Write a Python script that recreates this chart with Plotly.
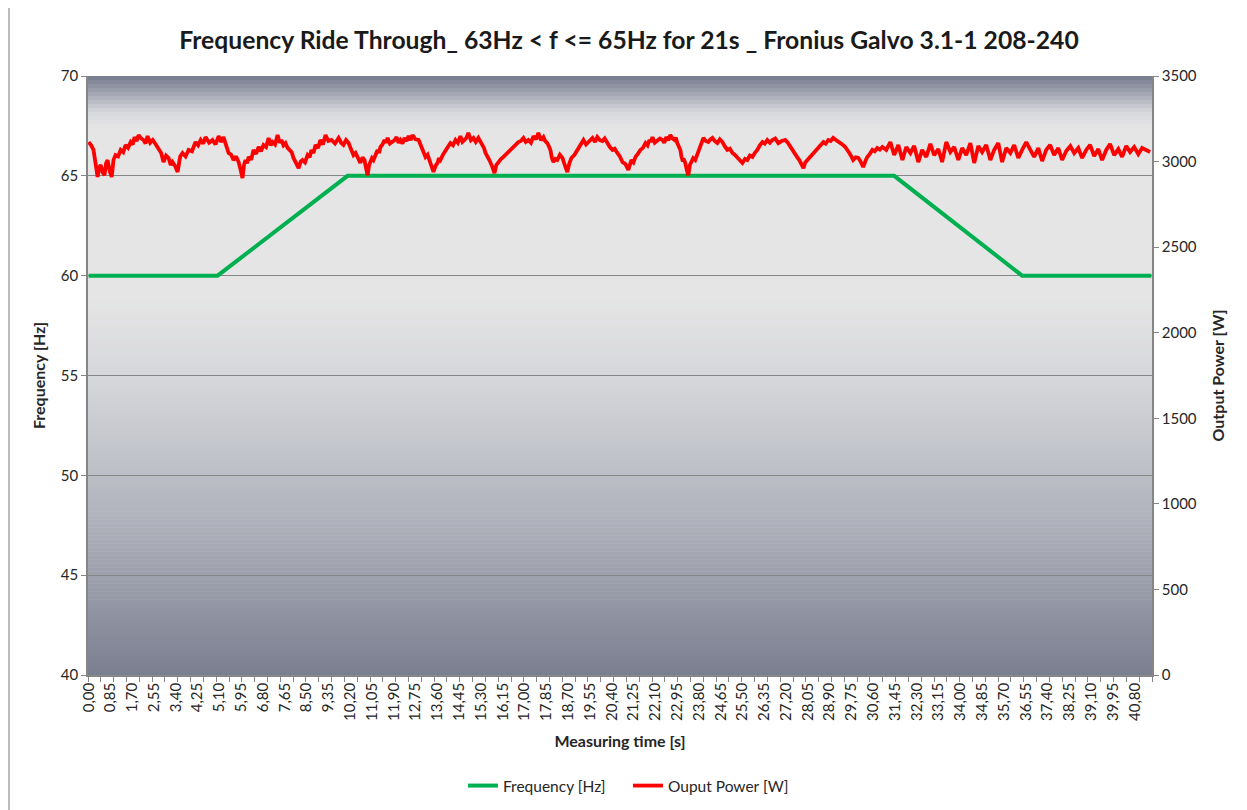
import plotly.graph_objects as go

# ---------------- data ----------------
freq_time = [0.0, 5.03, 10.10, 31.42, 36.41, 41.45]
freq_hz = [60, 60, 65, 65, 60, 60]

power_time = [
    0.00, 0.10, 0.19, 0.27, 0.35, 0.41, 0.47, 0.55, 0.62, 0.68, 0.74, 0.82, 0.90, 0.97, 1.05, 1.15,
    1.25, 1.35, 1.44, 1.54, 1.64, 1.72, 1.79, 1.87, 1.95, 2.05, 2.14, 2.22, 2.30, 2.40, 2.50, 2.62,
    2.73, 2.83, 2.92, 3.02, 3.12, 3.20, 3.27, 3.37, 3.47, 3.57, 3.66, 3.78, 3.90, 4.03, 4.17, 4.27,
    4.37, 4.47, 4.56, 4.70, 4.83, 4.95, 5.07, 5.17, 5.26, 5.36, 5.46, 5.56, 5.65, 5.75, 5.85, 5.93,
    6.00, 6.06, 6.12, 6.18, 6.24, 6.34, 6.43, 6.53, 6.63, 6.72, 6.82, 6.92, 7.02, 7.10, 7.17, 7.27,
    7.37, 7.45, 7.52, 7.60, 7.68, 7.76, 7.84, 7.92, 7.99, 8.09, 8.19, 8.27, 8.34, 8.44, 8.54, 8.62,
    8.69, 8.77, 8.85, 8.95, 9.04, 9.14, 9.24, 9.35, 9.47, 9.61, 9.75, 9.85, 9.94, 10.04, 10.14, 10.24,
    10.33, 10.41, 10.49, 10.55, 10.60, 10.68, 10.76, 10.82, 10.88, 10.94, 10.99, 11.05, 11.11, 11.19,
    11.27, 11.33, 11.38, 11.46, 11.54, 11.60, 11.66, 11.75, 11.85, 11.93, 12.01, 12.09, 12.16, 12.24,
    12.32, 12.40, 12.48, 12.56, 12.63, 12.75, 12.87, 12.95, 13.02, 13.08, 13.14, 13.22, 13.29, 13.37,
    13.45, 13.53, 13.61, 13.66, 13.72, 13.82, 13.92, 14.01, 14.11, 14.21, 14.31, 14.40, 14.50, 14.58,
    14.66, 14.74, 14.81, 14.91, 15.01, 15.10, 15.20, 15.28, 15.36, 15.42, 15.48, 15.56, 15.63, 15.73,
    15.83, 15.90, 15.98, 16.08, 16.18, 16.27, 16.37, 16.47, 16.57, 16.66, 16.76, 16.86, 16.96, 17.05,
    17.15, 17.25, 17.35, 17.45, 17.54, 17.64, 17.74, 17.81, 17.89, 17.95, 18.01, 18.07, 18.13, 18.20,
    18.28, 18.38, 18.48, 18.57, 18.67, 18.75, 18.83, 18.95, 19.06, 19.18, 19.30, 19.40, 19.49, 19.57,
    19.65, 19.75, 19.84, 19.94, 20.04, 20.13, 20.23, 20.33, 20.43, 20.52, 20.62, 20.72, 20.82, 20.94,
    21.05, 21.11, 21.17, 21.25, 21.33, 21.42, 21.52, 21.62, 21.72, 21.80, 21.87, 21.93, 21.99, 22.08,
    22.18, 22.28, 22.38, 22.45, 22.53, 22.61, 22.69, 22.77, 22.85, 22.90, 22.96, 23.02, 23.08, 23.12,
    23.16, 23.22, 23.27, 23.33, 23.39, 23.45, 23.51, 23.58, 23.66, 23.74, 23.82, 23.90, 23.98, 24.07,
    24.17, 24.25, 24.33, 24.42, 24.52, 24.62, 24.72, 24.81, 24.91, 25.01, 25.11, 25.20, 25.30, 25.40,
    25.50, 25.60, 25.69, 25.79, 25.89, 25.98, 26.08, 26.18, 26.28, 26.37, 26.47, 26.57, 26.67, 26.78,
    26.90, 27.03, 27.17, 27.27, 27.37, 27.46, 27.56, 27.64, 27.72, 27.80, 27.88, 27.95, 28.03, 28.13,
    28.23, 28.32, 28.42, 28.54, 28.66, 28.75, 28.85, 28.94, 29.04, 29.16, 29.28, 29.40, 29.51, 29.59,
    29.67, 29.75, 29.82, 29.92, 30.02, 30.11, 30.21, 30.29, 30.37, 30.47, 30.57, 30.66, 30.76, 30.86,
    30.96,
    31.11, 31.27, 31.42, 31.58, 31.74, 31.89, 32.05, 32.20, 32.36, 32.51, 32.67, 32.83, 32.98, 33.14,
    33.29, 33.45, 33.61, 33.76, 33.92, 34.07, 34.23, 34.39, 34.54, 34.70, 34.85, 35.01, 35.17, 35.32,
    35.48, 35.63, 35.79, 35.95, 36.10, 36.26, 36.41, 36.57, 36.73, 36.88, 37.04, 37.19, 37.35, 37.50,
    37.66, 37.82, 37.97, 38.13, 38.29, 38.44, 38.60, 38.75, 38.91, 39.06, 39.22, 39.38, 39.53, 39.69,
    39.84, 40.00, 40.16, 40.31, 40.47, 40.62, 40.78, 40.94, 41.09, 41.25, 41.40,
]
power_w = [
    3114, 3095, 3068, 2985, 2910, 2965, 2980, 2935, 2921, 2990, 3009, 2945, 2910, 3010, 3038, 3030,
    3068, 3055, 3097, 3080, 3114, 3100, 3143, 3120, 3155, 3135, 3126, 3105, 3149, 3110, 3126, 3100,
    3068, 3050, 2997, 3035, 3021, 2980, 2997, 2975, 2939, 3030, 3050, 3030, 3068, 3060, 3114, 3095,
    3126, 3105, 3143, 3110, 3126, 3100, 3149, 3115, 3143, 3100, 3050, 3040, 3009, 3030, 2997, 2950,
    2904, 2980, 3009, 2990, 3027, 3010, 3068, 3045, 3085, 3060, 3097, 3085, 3138, 3095, 3114, 3100,
    3155, 3110, 3126, 3095, 3108, 3080, 3068, 3055, 3021, 2990, 2962, 3000, 3009, 2995, 3038, 3025,
    3068, 3050, 3097, 3080, 3126, 3100, 3155, 3120, 3126, 3105, 3138, 3110, 3097, 3125, 3108, 3070,
    3038, 3050, 3027, 3005, 2992, 3025, 3009, 2960, 2921, 2980, 2997, 3020, 3009, 3045,
    3068, 3050, 3085, 3100, 3126, 3110, 3138, 3105, 3114, 3125, 3143, 3110, 3126, 3105,
    3138, 3120, 3149, 3125, 3155, 3130, 3126, 3100, 3068, 3050, 3027, 3040, 3009, 2990,
    2939, 2975, 2992, 3020, 3009, 3040, 3068, 3085, 3108, 3095, 3126, 3110, 3149, 3115,
    3126, 3140, 3167, 3125, 3138, 3115, 3138, 3120, 3097, 3080, 3050, 3030, 3009, 2975,
    2933, 2980, 2997, 3015, 3027, 3040, 3056, 3070, 3085, 3095, 3114, 3120, 3138, 3115,
    3126, 3110, 3149, 3130, 3167, 3125, 3143, 3120, 3108, 3090, 3068, 3020, 2997, 3015,
    3009, 3040, 3021, 2980, 2939, 2990, 3021, 3040, 3068, 3090, 3126, 3100, 3114, 3130,
    3138, 3115, 3143, 3125, 3120, 3135, 3108, 3085, 3068, 3075, 3050, 3030, 2997, 2985,
    2951, 2990, 3009, 2995, 3027, 3045, 3068, 3080, 3108, 3095, 3126, 3115, 3143, 3110,
    3120, 3135, 3126, 3110, 3143, 3125, 3155, 3135, 3126, 3140, 3108, 3090, 3068, 3030,
    3009, 3010, 2992, 2950, 2921, 2980, 2997, 3020, 3009, 3045, 3068, 3110, 3138, 3120,
    3114, 3130, 3138, 3120, 3108, 3130, 3114, 3090, 3068, 3075, 3050, 3040, 3021, 3010,
    2992, 3015, 3009, 3035, 3027, 3050, 3068, 3095, 3114, 3105, 3126, 3110, 3126, 3135,
    3108, 3120, 3126, 3110, 3085, 3060, 3038, 3025, 3009, 2990, 2962, 2995, 3009, 3025,
    3038, 3060, 3079, 3095, 3114, 3105, 3126, 3120, 3138, 3125, 3114, 3100, 3085, 3070,
    3050, 3030, 3009, 3025, 3021, 3000, 2968, 3000, 3027, 3045, 3068, 3060, 3079, 3070,
    3085,
    3068, 3114, 3038, 3097, 3009, 3085, 3050, 3091, 2997, 3068, 3027, 3103, 3038, 3073,
    2997, 3114, 3056, 3085, 3009, 3079, 3038, 3108, 2992, 3091, 3056, 3097, 3009, 3068,
    3108, 2997, 3079, 3050, 3097, 3021, 3068, 3114, 3068, 3027, 3079, 3003, 3068, 3097,
    3038, 3079, 3009, 3062, 3091, 3050, 3079, 3021, 3068, 3097, 3032, 3073, 3009, 3068,
    3103, 3038, 3073, 3027, 3091, 3056, 3085, 3044, 3079, 3068, 3056,
]

label_step = 0.85
n_labels = 49
tick_vals = [round(i * label_step, 2) for i in range(n_labels)]
tick_text = [f"{v:.2f}".replace(".", ",") for v in tick_vals]

x_range = [-0.025, 41.475]

# ---------------- geometry (page has an 8px body margin) ----------------
FIG_W, FIG_H = 1239, 802
M_L, M_R, M_T, M_B = 80, 95, 68, 135
PLOT_W = FIG_W - M_L - M_R
PLOT_H = FIG_H - M_T - M_B

fig = go.Figure()

# background gradient (styling bands)
stops = [
    (0.0, (118, 122, 140)),
    (0.03, (165, 168, 180)),
    (0.06, (214, 215, 220)),
    (0.085, (229, 229, 229)),
    (0.37, (229, 229, 229)),
    (0.50, (214, 215, 219)),
    (0.67, (188, 190, 198)),
    (0.83, (158, 161, 173)),
    (1.0, (122, 127, 144)),
]


def color_at(f):
    for (f0, c0), (f1, c1) in zip(stops[:-1], stops[1:]):
        if f0 <= f <= f1:
            k = 0 if f1 == f0 else (f - f0) / (f1 - f0)
            return "rgb(%d,%d,%d)" % tuple(round(a + (b - a) * k) for a, b in zip(c0, c1))
    return "rgb(%d,%d,%d)" % stops[-1][1]


shapes = []
nb = 150
for i in range(nb):
    f_top = i / nb
    f_bot = (i + 1) / nb
    shapes.append(dict(
        type="rect", xref="paper", yref="paper",
        x0=0, x1=1, y0=1 - f_bot - 0.001, y1=1 - f_top,
        fillcolor=color_at((f_top + f_bot) / 2), line=dict(width=0), layer="below",
    ))
# outer chart border line on the left
shapes.append(dict(type="line", xref="paper", yref="paper",
                   x0=(1 - M_L) / PLOT_W, x1=(1 - M_L) / PLOT_W,
                   y0=-(M_B) / PLOT_H, y1=1 + M_T / PLOT_H,
                   line=dict(color="#a6a6a6", width=1.5)))

fig.add_trace(go.Scatter(
    x=freq_time, y=freq_hz, name="Frequency [Hz]", mode="lines",
    line=dict(color="#00b050", width=4), yaxis="y",
))
fig.add_trace(go.Scatter(
    x=power_time, y=power_w, name="Ouput Power [W]", mode="lines",
    line=dict(color="#ff0000", width=3.8), yaxis="y2",
))

font_family = "Lato, 'Open Sans', sans-serif"

fig.update_layout(
    width=FIG_W, height=FIG_H,
    margin=dict(l=M_L, r=M_R, t=M_T, b=M_B, autoexpand=False),
    paper_bgcolor="white",
    plot_bgcolor="rgba(0,0,0,0)",
    font=dict(family=font_family, size=15, color="#262626"),
    title=dict(
        text="<b>Frequency Ride Through_ 63Hz < f <= 65Hz for 21s _ Fronius Galvo 3.1-1 208-240</b>",
        x=(629 - 8) / FIG_W, xanchor="center", y=1 - 32 / FIG_H, yanchor="middle",
        font=dict(size=24.7, color="#1a1a1a", family=font_family),
    ),
    shapes=shapes,
    showlegend=True,
    legend=dict(
        orientation="h", x=(628 - 88) / PLOT_W, xanchor="center",
        y=-(778 - (M_T + PLOT_H)) / PLOT_H, yanchor="middle",
        entrywidth=120, entrywidthmode="pixels",
        font=dict(size=15.5, color="#262626"), bgcolor="rgba(0,0,0,0)",
    ),
    xaxis=dict(
        range=x_range, tickmode="array", tickvals=tick_vals, ticktext=tick_text,
        tickangle=-90, ticks="", showgrid=False, zeroline=False, automargin=False,
        showline=True, linecolor="#868686", linewidth=1.5,
        tickfont=dict(size=15, color="#262626"),
        title=dict(text="<b>Measuring time [s]</b>", font=dict(size=16), standoff=16),
        minor=dict(ticks="outside", tickmode="linear", tick0=-0.025, dtick=0.5,
                   ticklen=5, tickcolor="#868686", showgrid=False),
    ),
    yaxis=dict(
        range=[40, 70], dtick=5, ticks="outside", ticklen=5, tickcolor="#868686",
        showgrid=True, gridcolor="#868686", gridwidth=1, zeroline=False, automargin=False,
        showline=True, linecolor="#868686", linewidth=1.5,
        tickfont=dict(size=15, color="#262626"),
        title=dict(text="<b>Frequency [Hz]</b>", font=dict(size=16), standoff=11),
    ),
    yaxis2=dict(
        range=[0, 3500], dtick=500, overlaying="y", side="right",
        ticks="outside", ticklen=5, tickcolor="#868686",
        showgrid=False, zeroline=False, automargin=False,
        showline=True, linecolor="#868686", linewidth=1.5,
        tickfont=dict(size=15, color="#262626"),
        title=dict(text="<b>Output Power [W]</b>", font=dict(size=16), standoff=17),
    ),
)

fig.write_html("out.html")
